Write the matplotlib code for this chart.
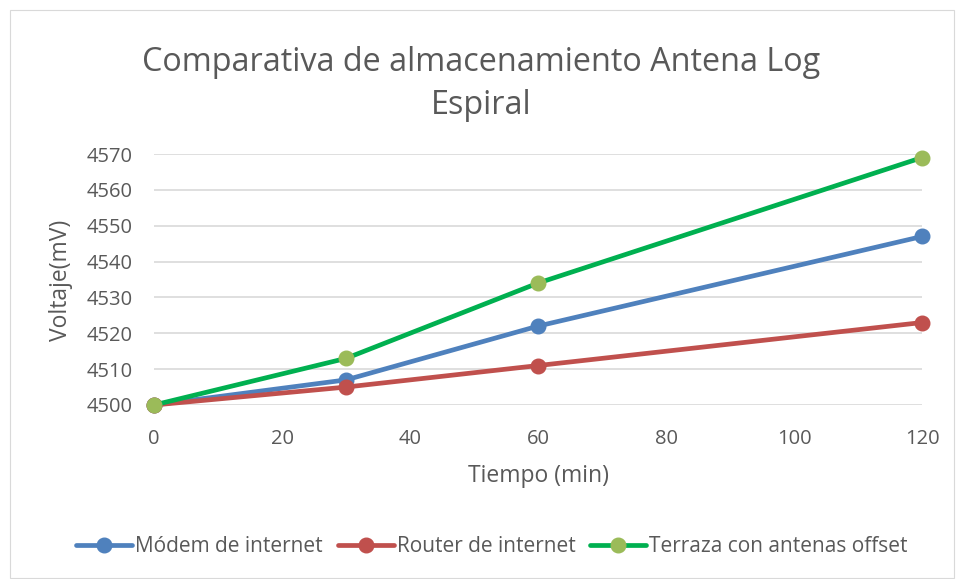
import matplotlib
matplotlib.use("Agg")
import matplotlib.pyplot as plt
from matplotlib.patches import Rectangle

# Data
tiempo = [0, 30, 60, 120]
modem = [4500, 4507, 4522, 4547]
router = [4500, 4505, 4511, 4523]
terraza = [4500, 4513, 4534, 4569]
series_names = ["Módem de internet", "Router de internet", "Terraza con antenas offset"]
x_ticks = [0, 20, 40, 60, 80, 100, 120]
y_ticks = [4500, 4510, 4520, 4530, 4540, 4550, 4560, 4570]
title_lines = ["Comparativa de almacenamiento Antena Log", "Espiral"]

plt.rcParams['font.family'] = ['Open Sans', 'DejaVu Sans']
text_color = '#595959'
W, H = 960, 579

fig = plt.figure(figsize=(W / 100, H / 100), dpi=100)
fig.patches.append(Rectangle((10 / W, 1 / H), 944 / W, 568 / H, transform=fig.transFigure,
                             fill=False, edgecolor='#D9D9D9', linewidth=0.8))

ax = fig.add_axes([154 / W, 1 - 405 / H, 768 / W, 251 / H])
ax.set_xlim(0, 120)
ax.set_ylim(4500, 4570)

styles = [
    (modem, '#4F81BD', '#4F81BD'),
    (router, '#C0504D', '#C0504D'),
    (terraza, '#00B050', '#9BBB59'),
]
handles = []
for (vals, lc, mc), name in zip(styles, series_names):
    ln, = ax.plot(tiempo, vals, color=lc, linewidth=3.4, marker='o', markersize=10.5,
                  markerfacecolor=mc, markeredgecolor=mc, clip_on=False, zorder=3,
                  label=name, solid_capstyle='round')
    handles.append(ln)

for s in ax.spines.values():
    s.set_visible(False)
ax.set_xticks(x_ticks)
ax.set_yticks(y_ticks)
ax.tick_params(length=0, labelsize=14.5, colors=text_color)
ax.tick_params(axis='x', pad=17)
ax.tick_params(axis='y', pad=15.5)
ax.grid(axis='y', color='#D9D9D9', linewidth=1.2)
ax.set_axisbelow(True)

# Axis titles
fig.text(538.5 / W, 1 - 476 / H, "Tiempo (min)", ha='center', va='center',
         fontsize=16.5, color=text_color)
fig.text(61 / W, 1 - 280 / H, "Voltaje(mV)", ha='center', va='center', rotation=90,
         fontsize=16.5, color=text_color)

# Chart title (two lines)
fig.text(481.5 / W, 1 - 71 / H, title_lines[0], ha='center', va='baseline',
         fontsize=23.3, color=text_color)
fig.text(481.5 / W, 1 - 114 / H, title_lines[1], ha='center', va='baseline',
         fontsize=23.3, color=text_color)

fig.legend(handles=handles, loc='center', bbox_to_anchor=(492 / W, 1 - 547 / H), ncol=3,
           frameon=False, fontsize=15, labelcolor=text_color, handlelength=2.7,
           handletextpad=0.14, columnspacing=0.7, borderpad=0, borderaxespad=0)

fig.savefig("out.png", dpi=100)
